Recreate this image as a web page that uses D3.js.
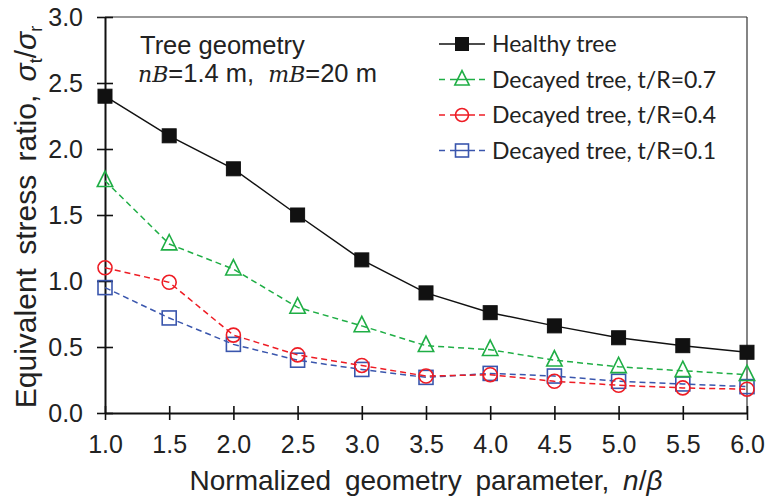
<!DOCTYPE html>
<html>
<head>
<meta charset="utf-8">
<script src="https://cdn.jsdelivr.net/npm/d3@7"></script>
<style>
  html, body { margin: 0; padding: 0; background: #fff; }
  svg { display: block; }
</style>
</head>
<body>
<svg id="chart" width="769" height="499"></svg>
<script>
// x positions (normalized geometry parameter n/β)
const xValues = [1.0, 1.5, 2.0, 2.5, 3.0, 3.5, 4.0, 4.5, 5.0, 5.5, 6.0];

// equivalent stress ratio σt/σr for each case
const healthy = [2.40, 2.10, 1.85, 1.50, 1.16, 0.91, 0.76, 0.66, 0.57, 0.51, 0.46];
const decayed07 = [1.76, 1.28, 1.09, 0.80, 0.66, 0.51, 0.48, 0.40, 0.35, 0.32, 0.29];
const decayed04 = [1.10, 0.99, 0.59, 0.44, 0.36, 0.28, 0.29, 0.24, 0.21, 0.19, 0.18];
const decayed01 = [0.95, 0.72, 0.52, 0.40, 0.33, 0.27, 0.30, 0.28, 0.24, 0.22, 0.20];

const seriesNames = ["Healthy tree", "Decayed tree, t/R=0.7", "Decayed tree, t/R=0.4", "Decayed tree, t/R=0.1"];

const xTicks = [1.0, 1.5, 2.0, 2.5, 3.0, 3.5, 4.0, 4.5, 5.0, 5.5, 6.0];
const yTicks = [0.0, 0.5, 1.0, 1.5, 2.0, 2.5, 3.0];

const series = [
  { name: seriesNames[0], values: healthy,   color: "#111111", marker: "filledSquare", dash: null },
  { name: seriesNames[1], values: decayed07, color: "#1fae45", marker: "triangle",     dash: "6,4" },
  { name: seriesNames[2], values: decayed04, color: "#ee1c24", marker: "circle",       dash: "6,4" },
  { name: seriesNames[3], values: decayed01, color: "#3a56ad", marker: "square",       dash: "6,4" }
];

const svg = d3.select("#chart");
const plotLeft = 105, plotRight = 747, plotTop = 17, plotBottom = 413;

const x = d3.scaleLinear().domain([1, 6]).range([plotLeft, plotRight]);
const y = d3.scaleLinear().domain([0, 3]).range([plotBottom, plotTop]);

const axisFont = "'Liberation Sans', Arial, sans-serif";

// frame: thin top and right borders
svg.append("line").attr("x1", plotLeft).attr("x2", plotRight).attr("y1", plotTop).attr("y2", plotTop)
  .attr("stroke", "#333").attr("stroke-width", 1.2);
svg.append("line").attr("x1", plotRight).attr("x2", plotRight).attr("y1", plotTop).attr("y2", plotBottom)
  .attr("stroke", "#333").attr("stroke-width", 1.2);

// x axis with crossing ticks
const xAxis = svg.append("g").attr("transform", `translate(0,${plotBottom})`)
  .call(d3.axisBottom(x).tickValues(xTicks).tickFormat(d3.format(".1f"))
    .tickSizeInner(7).tickSizeOuter(0).tickPadding(15));
xAxis.select(".domain").attr("stroke", "#111").attr("stroke-width", 2);
xAxis.selectAll(".tick line").attr("y1", -7).attr("stroke", "#111").attr("stroke-width", 1.6);
xAxis.selectAll(".tick text").attr("font-family", axisFont).attr("font-size", 25).attr("fill", "#222");

// y axis with crossing ticks
const yAxis = svg.append("g").attr("transform", `translate(${plotLeft},0)`)
  .call(d3.axisLeft(y).tickValues(yTicks).tickFormat(d3.format(".1f"))
    .tickSizeInner(8).tickSizeOuter(0).tickPadding(14));
yAxis.select(".domain").attr("stroke", "#111").attr("stroke-width", 2);
yAxis.selectAll(".tick line").attr("x1", 8).attr("stroke", "#111").attr("stroke-width", 1.6);
yAxis.selectAll(".tick text").attr("font-family", axisFont).attr("font-size", 25).attr("fill", "#222");

// axis titles
svg.append("text")
  .attr("x", (plotLeft + plotRight) / 2).attr("y", 490)
  .attr("text-anchor", "middle")
  .attr("font-family", axisFont).attr("font-size", 28).attr("fill", "#222")
  .attr("word-spacing", 6)
  .call(t => {
    t.append("tspan").text("Normalized geometry parameter, ");
    t.append("tspan").attr("font-style", "italic").text("n");
    t.append("tspan").text("/");
    t.append("tspan").attr("font-style", "italic").text("β");
  });

svg.append("text")
  .attr("transform", `translate(36,${(plotTop + plotBottom) / 2 + 2}) rotate(-90)`)
  .attr("text-anchor", "middle")
  .attr("font-family", axisFont).attr("font-size", 30).attr("fill", "#222")
  .attr("word-spacing", 5)
  .call(t => {
    t.append("tspan").text("Equivalent stress ratio, ");
    t.append("tspan").attr("font-style", "italic").text("σ");
    t.append("tspan").attr("font-size", 18).attr("dy", 6).text("t");
    t.append("tspan").attr("dy", -6).text("/");
    t.append("tspan").attr("font-style", "italic").text("σ");
    t.append("tspan").attr("font-size", 18).attr("dy", 6).text("r");
  });

// marker drawing
function drawMarker(g, type, color, size) {
  const h = size / 2;
  if (type === "filledSquare") {
    g.append("rect").attr("x", -h).attr("y", -h).attr("width", size).attr("height", size)
      .attr("fill", color).attr("stroke", color).attr("stroke-width", 1);
  } else if (type === "square") {
    g.append("rect").attr("x", -h).attr("y", -h).attr("width", size).attr("height", size)
      .attr("fill", "none").attr("stroke", color).attr("stroke-width", 1.6);
  } else if (type === "circle") {
    g.append("circle").attr("r", h).attr("fill", "none").attr("stroke", color).attr("stroke-width", 1.6);
  } else if (type === "triangle") {
    const s = size * 1.1;
    g.append("path")
      .attr("d", `M0,${-s * 0.62}L${s / 2},${s * 0.38}L${-s / 2},${s * 0.38}Z`)
      .attr("fill", "none").attr("stroke", color).attr("stroke-width", 1.6);
  }
}

const line = d3.line().x((d, i) => x(xValues[i])).y(d => y(d));

// draw from bottom series up so healthy tree sits on top
[...series].reverse().forEach(s => {
  svg.append("path").datum(s.values)
    .attr("d", line)
    .attr("fill", "none")
    .attr("stroke", s.color)
    .attr("stroke-width", 1.5)
    .attr("stroke-dasharray", s.dash);
  s.values.forEach((v, i) => {
    const g = svg.append("g").attr("transform", `translate(${x(xValues[i])},${y(v)})`);
    drawMarker(g, s.marker, s.color, 14);
  });
});

// legend
const legendFont = "Lato, 'Open Sans', sans-serif";
const legend = svg.append("g");
series.forEach((s, i) => {
  const ly = 44 + i * 35.5;
  const row = legend.append("g").attr("transform", `translate(0,${ly})`);
  if (s.dash) {
    row.append("line").attr("x1", 439).attr("x2", 445).attr("y1", 0).attr("y2", 0)
      .attr("stroke", s.color).attr("stroke-width", 1.5);
    row.append("line").attr("x1", 479).attr("x2", 485).attr("y1", 0).attr("y2", 0)
      .attr("stroke", s.color).attr("stroke-width", 1.5);
    row.append("line").attr("x1", 450).attr("x2", 475).attr("y1", 0).attr("y2", 0)
      .attr("stroke", s.color).attr("stroke-width", 1.5);
  } else {
    row.append("line").attr("x1", 439).attr("x2", 485).attr("y1", 0).attr("y2", 0)
      .attr("stroke", s.color).attr("stroke-width", 1.5);
  }
  const m = row.append("g").attr("transform", "translate(462,0)");
  drawMarker(m, s.marker, s.color, 13);
  row.append("text").attr("x", 492).attr("y", 0).attr("dy", "0.36em")
    .attr("font-family", legendFont).attr("font-size", 23).attr("fill", "#222")
    .text(s.name);
});

// annotation
svg.append("text").attr("x", 140).attr("y", 54)
  .attr("font-family", axisFont).attr("font-size", 25.5).attr("fill", "#222")
  .text("Tree geometry");
const l2 = svg.append("text").attr("x", 138).attr("y", 82)
  .attr("font-family", axisFont).attr("font-size", 25.5).attr("fill", "#222");
l2.append("tspan").attr("font-family", "'DejaVu Serif', serif").attr("font-style", "italic").attr("font-size", 22).text("nB");
l2.append("tspan").text("=1.4 m,\u00a0 ");
l2.append("tspan").attr("font-family", "'DejaVu Serif', serif").attr("font-style", "italic").attr("font-size", 22).text("mB");
l2.append("tspan").text("=20 m");
</script>
</body>
</html>
